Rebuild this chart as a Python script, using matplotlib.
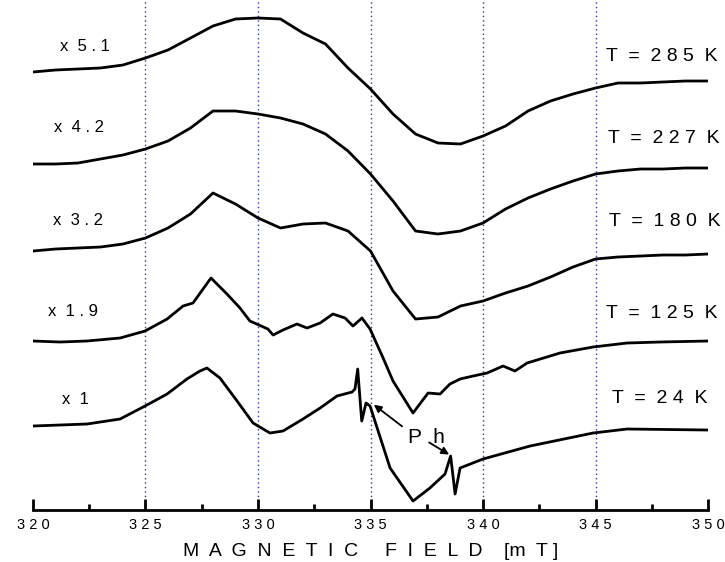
import numpy as np
import matplotlib
matplotlib.use("Agg")
import matplotlib.pyplot as plt

plt.rcParams['font.family'] = ['Liberation Sans', 'DejaVu Sans']

# magnetic field [mT] and signal height [a.u.]
field_1mT = np.arange(320, 351, 1)

sig_285K = [438, 440, 441, 442, 445, 452, 460, 472, 484, 491, 492, 491, 477, 466, 442, 421,
            396, 376, 367, 366, 374, 384, 399, 409, 416, 422, 427, 427, 428, 429, 429]
sig_227K = [346, 346, 347, 351, 355, 361, 369, 382, 399, 399, 396, 392, 386, 376, 359, 336,
            309, 279, 276, 279, 287, 301, 312, 321, 329, 336, 339, 341, 341, 342, 342]
sig_180K = [259, 261, 262, 263, 266, 272, 282, 296, 317, 306, 292, 282, 286, 287, 279, 259,
            219, 191, 193, 204, 209, 217, 224, 233, 243, 251, 253, 254, 255, 255, 256]

field_125K = [320.0, 321.2, 322.4, 323.87, 324.98, 325.96, 326.67, 327.11, 327.91, 328.62,
              329.2, 329.64, 330.44, 330.67, 331.11, 331.73, 332.18, 332.76, 333.33, 333.87,
              334.22, 334.62, 334.98, 335.56, 336.0, 336.89, 337.29, 337.56, 338.09, 338.53,
              338.98, 339.56, 340.18, 340.89, 341.42, 341.96, 343.42, 344.89, 346.4, 347.87, 350.0]
sig_125K = [169, 168, 169, 172, 179, 191, 204, 207, 232, 216,
            202, 189, 181, 175, 180, 186, 182, 187, 196, 192,
            184, 192, 181, 152, 129, 97, 109, 117, 116, 126,
            131, 134, 137, 144, 139, 147, 157, 163, 167, 168, 169]

field_24K = [320.0, 322.4, 323.87, 324.98, 325.96, 326.84, 327.42, 327.73, 328.31, 329.07,
             329.78, 330.53, 331.11, 332.0, 332.76, 333.51, 334.18, 334.31, 334.43, 334.61,
             334.8, 334.98, 335.87, 336.89, 337.64, 338.31, 338.56, 338.76, 338.98, 340.0,
             342.09, 344.89, 346.4, 350.0]
sig_24K = [84, 86, 91, 104, 116, 131, 139, 142, 132, 109,
           87, 77, 79, 91, 102, 114, 118, 121, 141, 89,
           107, 104, 42, 9, 22, 36, 54, 16, 42, 51,
           64, 77, 81, 80]

gain_labels = ["x  5 . 1", "x  4 . 2", "x  3 . 2", "x  1 . 9", "x  1"]
temp_labels = ["T  =  2 8 5  K", "T  =  2 2 7  K", "T  =  1 8 0  K",
               "T  =  1 2 5  K", "T  =  2 4  K"]
tick_vals = [320, 325, 330, 335, 340, 345, 350]
tick_labels = ["3 2 0", "3 2 5", "3 3 0", "3 3 5", "3 4 0", "3 4 5", "3 5 0"]

fig = plt.figure(figsize=(7.25, 5.62), dpi=100)
ax = fig.add_axes([0.0455, 0.0925, 0.9311, 0.9075])

for xv in tick_vals[1:-1]:
    ax.axvline(xv, color='#2a36b0', ls=(0, (1, 2.2)), lw=1.0, zorder=1)

spectra = [(field_1mT, sig_285K), (field_1mT, sig_227K), (field_1mT, sig_180K),
           (field_125K, sig_125K), (field_24K, sig_24K)]
for fx, sy in spectra:
    ax.plot(fx, sy, color='black', lw=2.0, solid_joinstyle='round', zorder=3)

# label positions (field, height)
gain_pos = [(322.3, 464), (322.05, 383), (322.0, 290), (321.8, 199), (321.9, 111)]
temp_pos = [(347.95, 454), (348.05, 372), (348.1, 289), (347.95, 197), (347.85, 112)]
for (gx, gy), s in zip(gain_pos, gain_labels):
    ax.text(gx, gy, s, ha='center', va='center', fontsize=12)
for (tx, ty), s in zip(temp_pos, temp_labels):
    ax.text(tx, ty, s, ha='center', va='center', fontsize=14)

# phase markers
ax.text(337.5, 73, "P  h", ha='center', va='center', fontsize=15)
ax.annotate("", xy=(335.05, 107), xytext=(336.5, 82),
            arrowprops=dict(arrowstyle='-|>', color='black', lw=1.3, mutation_scale=11))
ax.annotate("", xy=(338.6, 54), xytext=(337.5, 69),
            arrowprops=dict(arrowstyle='-|>', color='black', lw=1.3, mutation_scale=11))

ax.set_xlim(320, 350)
ax.set_ylim(0, 510)
for side in ['left', 'top', 'right']:
    ax.spines[side].set_visible(False)
ax.spines['bottom'].set_linewidth(2.0)
ax.set_yticks([])
ax.set_xticks(tick_vals)
ax.set_xticklabels(tick_labels, fontsize=10.5)
ax.set_xticks(np.arange(322.5, 350, 5), minor=True)
ax.tick_params(axis='x', which='major', direction='in', length=8, width=2.0, pad=6)
ax.tick_params(axis='x', which='minor', direction='in', length=4, width=2.0)
ax.set_xlabel("M  A  G  N  E  T  I  C     F  I  E  L  D    [m  T ]", fontsize=14, labelpad=8)

fig.savefig("out.png", dpi=100)
